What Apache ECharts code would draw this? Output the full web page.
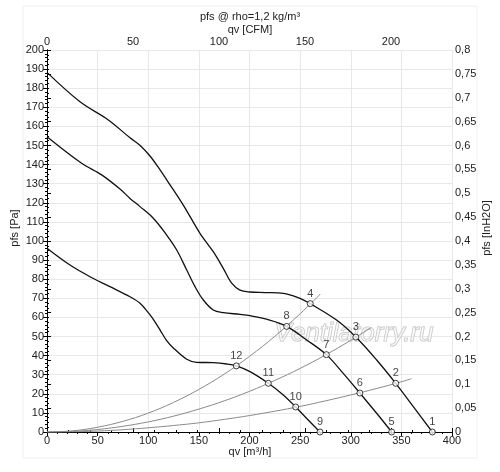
<!DOCTYPE html>
<html>
<head>
<meta charset="utf-8">
<script src="https://cdn.jsdelivr.net/npm/echarts@6/dist/echarts.min.js"></script>
<style>
html, body { margin: 0; padding: 0; background: #fff; }
#main { width: 500px; height: 472px; }
</style>
</head>
<body>
<div id="main"></div>
<script>
// fan curves, qv [m3/h] / pfs [Pa]
var qA = [0, 32.6, 60.6, 82, 92, 101.7, 110, 118.2, 134.6, 151.1, 164.2, 174.1, 182.4, 190.6, 200.5, 215, 233.4, 249.9, 260, 286, 305, 325.6, 344.4, 361.8, 380.6];
var pA = [188.3, 172.9, 163.4, 154, 150, 144.5, 138.5, 132, 118.8, 104, 94.4, 85.7, 77.9, 74.3, 73.3, 73, 72.6, 70, 67.2, 58.6, 49.7, 37.7, 25.5, 13.3, 0];
var qB = [0, 34.2, 54, 72.1, 82, 91.9, 105, 118.2, 128.1, 138, 146.2, 154.4, 164.2, 174.1, 190.6, 200.5, 220, 236.7, 256.5, 275.9, 292.6, 309, 325.6, 340.4];
var pB = [154.6, 140.7, 134.6, 127.2, 122.3, 118, 111.9, 103.1, 95.3, 84.8, 76.1, 69.1, 63.9, 62.5, 61.6, 60.9, 58.6, 55.3, 48.2, 40.5, 30.7, 20.4, 9.8, 0];
var qC = [0, 22.7, 42.5, 62.2, 82, 91.9, 100, 105, 111.6, 118, 124.8, 138, 147.8, 164.3, 177.5, 187, 200.5, 218.6, 233.4, 245.6, 258, 269.6];
var pC = [96.2, 87.4, 81.3, 76.1, 70.8, 67.4, 62.5, 59, 53.5, 48, 44, 38.1, 36.5, 36.3, 35.6, 34.6, 31.6, 25.5, 19.4, 13.1, 6.3, 0];

// system curves (grey)
var qS1 = [0, 25, 50, 75, 100, 125, 150, 175, 200, 225, 250, 270];
var pS1 = [0, 0.6, 2.5, 5.6, 9.9, 15.5, 22.3, 30.3, 39.6, 50.1, 61.9, 72.2];
var qS2 = [0, 25, 50, 75, 100, 125, 150, 175, 200, 225, 250, 275, 300, 320];
var pS2 = [0, 0.3, 1.3, 3.0, 5.3, 8.3, 12.0, 16.3, 21.3, 27.0, 33.3, 40.3, 48.0, 54.6];
var qS3 = [0, 25, 50, 75, 100, 125, 150, 175, 200, 225, 250, 275, 300, 325, 350, 360];
var pS3 = [0, 0.1, 0.5, 1.2, 2.2, 3.4, 4.8, 6.6, 8.6, 10.9, 13.4, 16.3, 19.4, 22.7, 26.3, 27.9];

// numbered operating points
var ptQ = [380.6, 344.4, 305, 260, 340.4, 309, 275.9, 236.7, 269.6, 245.6, 218.6, 187];
var ptP = [0, 25.5, 49.7, 67.2, 0, 20.4, 40.5, 55.3, 0, 13.1, 25.5, 34.6];
var ptLbl = ['1', '2', '3', '4', '5', '6', '7', '8', '9', '10', '11', '12'];

var cfmMax = 400 / 1.699;
var FONT = 'Liberation Sans, Arial, sans-serif';

function pairs(xs, ys) {
    return xs.map(function (x, i) { return [x, ys[i]]; });
}

function label(txt, x, y, rot) {
    return {
        type: 'text', x: x, y: y, rotation: rot || 0,
        style: { text: txt, font: '11px ' + FONT, fill: '#222', align: 'center', verticalAlign: 'middle' }
    };
}

var myChart = echarts.init(document.getElementById('main'));

var fanLine = { color: '#111', width: 1.3 };
var sysLine = { color: '#8a8a8a', width: 1 };

var option = {
    animation: false,
    textStyle: { fontFamily: FONT },
    grid: { left: 47, right: 48, top: 50, bottom: 40 },
    xAxis: [{
        type: 'value',
        position: 'bottom',
        min: 0, max: 400, interval: 50,
        axisLine: { lineStyle: { color: '#000', width: 1 } },
        axisTick: { length: 4, lineStyle: { color: '#000' } },
        minorTick: { show: true, splitNumber: 5, length: 2, lineStyle: { color: '#000' } },
        axisLabel: { fontSize: 11, color: '#222', margin: 3 },
        splitLine: { lineStyle: { color: '#e8e8e8' } }
    }, {
        type: 'value',
        position: 'top',
        min: 0, max: cfmMax, interval: 50,
        axisLine: { lineStyle: { color: '#000', width: 1 } },
        axisTick: { length: 4, lineStyle: { color: '#000' } },
        minorTick: { show: true, splitNumber: 4, length: 2, lineStyle: { color: '#000' } },
        axisLabel: {
            fontSize: 11, color: '#222', margin: 3, showMaxLabel: false,
            formatter: function (v) { return Math.abs(v % 50) < 1e-6 ? String(v) : ''; }
        },
        splitLine: { show: false }
    }],
    yAxis: [{
        type: 'value',
        position: 'left',
        min: 0, max: 200, interval: 10,
        axisLine: { show: true, lineStyle: { color: '#000', width: 1 } },
        axisTick: { show: true, length: 4, lineStyle: { color: '#000' } },
        minorTick: { show: true, splitNumber: 5, length: 2, lineStyle: { color: '#000' } },
        axisLabel: { fontSize: 11, color: '#222', margin: 3 },
        splitLine: { lineStyle: { color: '#e8e8e8' } }
    }, {
        type: 'value',
        position: 'right',
        min: 0, max: 0.8, interval: 0.05,
        axisLine: { show: true, lineStyle: { color: '#000', width: 1 } },
        axisTick: { show: true, length: 4, lineStyle: { color: '#000' } },
        minorTick: { show: true, splitNumber: 5, length: 2, lineStyle: { color: '#000' } },
        axisLabel: {
            fontSize: 11, color: '#222', margin: 3,
            formatter: function (v) { return String(+v.toFixed(2)).replace('.', ','); }
        },
        splitLine: { show: false }
    }],
    graphic: [{
        type: 'rect',
        z: -10,
        shape: { x: 23, y: 6, width: 454, height: 452 },
        style: { fill: 'none', stroke: '#f0f0f0', lineWidth: 1 }
    },
        label('pfs @ rho=1,2 kg/m³', 250, 17),
        label('qv [CFM]', 250, 30),
        label('qv [m³/h]', 250, 452),
        label('pfs [Pa]', 15, 228, Math.PI / 2),
        label('pfs [InH2O]', 487, 228, Math.PI / 2),
    {
        type: 'text',
        x: 354, y: 334,
        z: 1,
        style: {
            text: 'Ventilatorry.ru', font: 'italic 26px ' + FONT,
            fill: 'rgba(255,255,255,0.5)', stroke: '#bdbdbd', lineWidth: 1,
            align: 'center', verticalAlign: 'middle'
        }
    }],
    series: [
        { type: 'line', data: pairs(qS1, pS1), smooth: 0.4, showSymbol: false, lineStyle: sysLine, z: 2 },
        { type: 'line', data: pairs(qS2, pS2), smooth: 0.4, showSymbol: false, lineStyle: sysLine, z: 2 },
        { type: 'line', data: pairs(qS3, pS3), smooth: 0.4, showSymbol: false, lineStyle: sysLine, z: 2 },
        { type: 'line', data: pairs(qA, pA), smooth: 0.35, showSymbol: false, lineStyle: fanLine, z: 3 },
        { type: 'line', data: pairs(qB, pB), smooth: 0.35, showSymbol: false, lineStyle: fanLine, z: 3 },
        { type: 'line', data: pairs(qC, pC), smooth: 0.35, showSymbol: false, lineStyle: fanLine, z: 3 },
        {
            type: 'scatter',
            z: 5,
            symbol: 'circle',
            symbolSize: 6,
            itemStyle: { color: '#fff', borderColor: '#111', borderWidth: 1 },
            label: {
                show: true, position: 'top', distance: 1,
                fontSize: 11, color: '#111',
                formatter: function (p) { return p.name; }
            },
            data: ptQ.map(function (q, i) { return { name: ptLbl[i], value: [q, ptP[i]] }; })
        }
    ]
};

myChart.setOption(option);
</script>
</body>
</html>
